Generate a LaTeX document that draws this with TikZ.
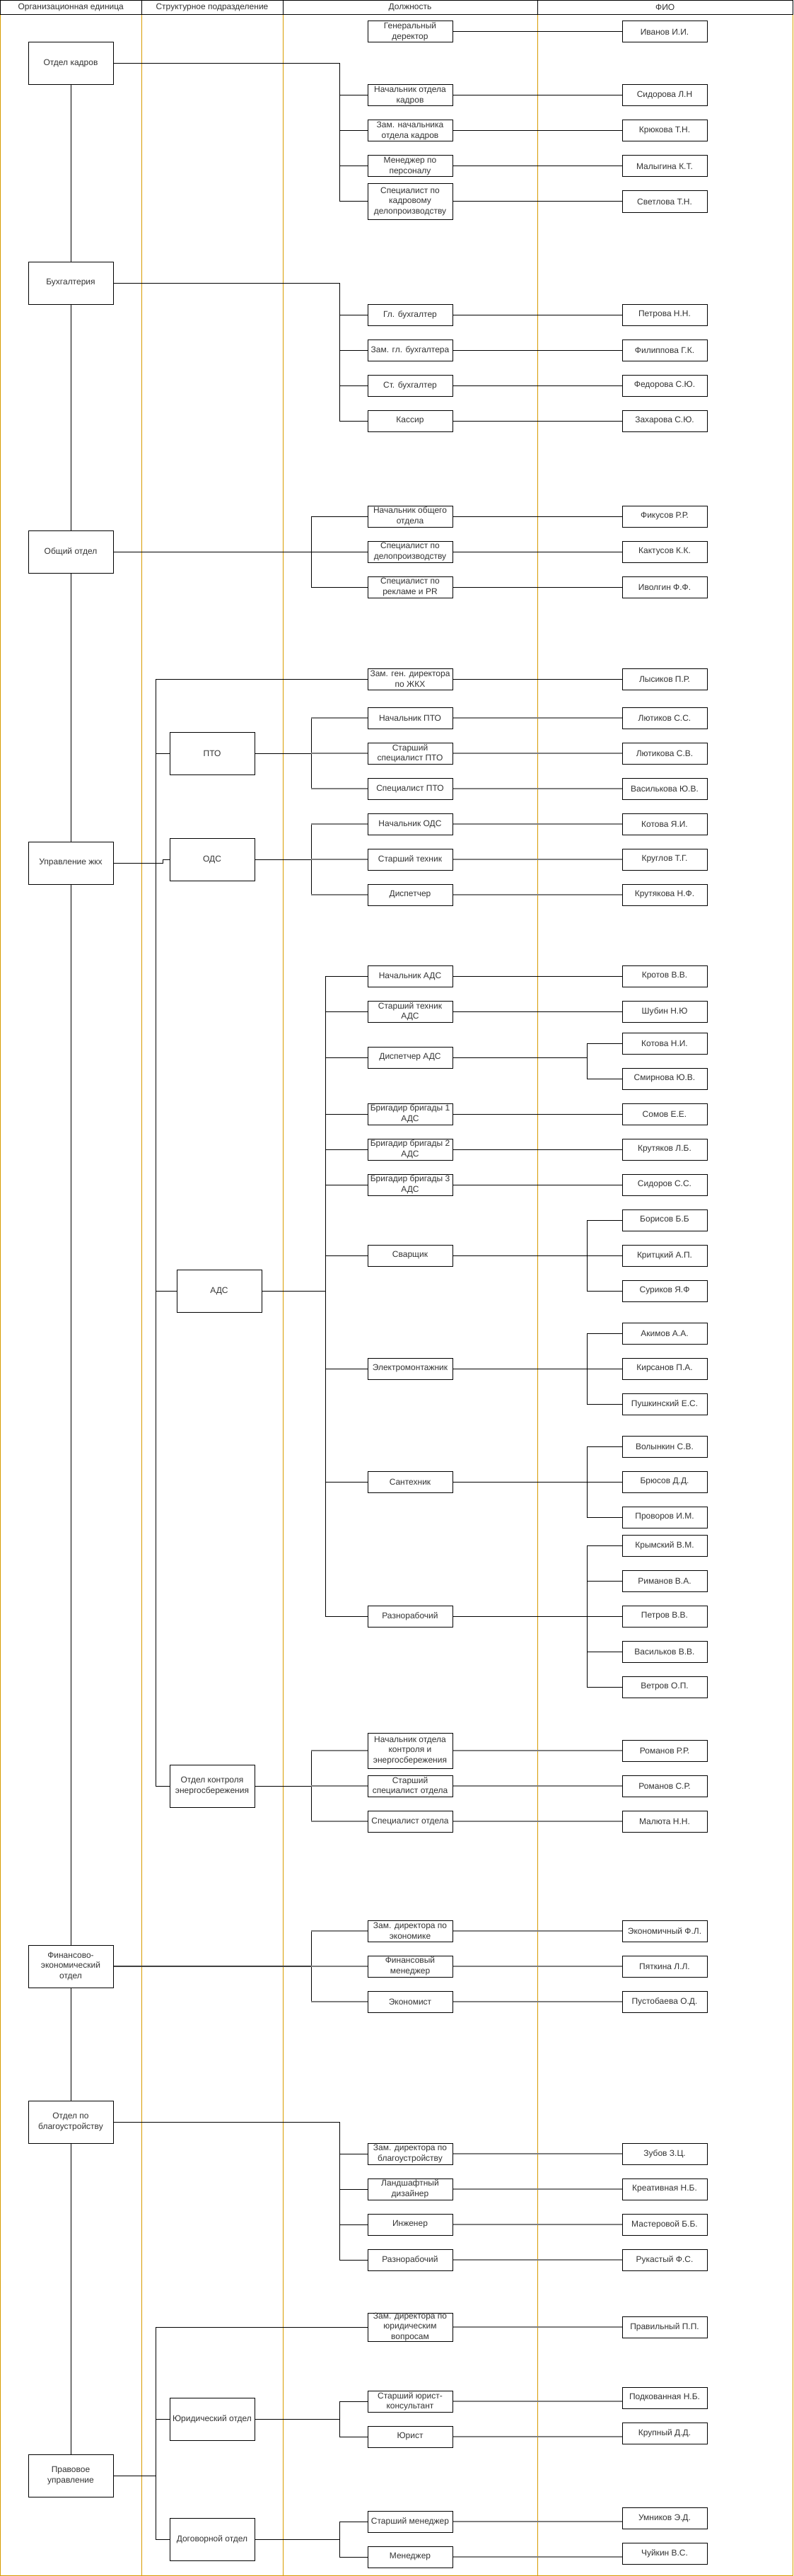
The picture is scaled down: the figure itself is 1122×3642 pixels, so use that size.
\documentclass[tikz,border=0pt]{standalone}
\usepackage{fontspec}
\setmainfont{Liberation Sans}
\usetikzlibrary{positioning}
\definecolor{or}{RGB}{215,155,0}
\definecolor{gristexte}{RGB}{51,51,51}
\definecolor{grislien}{RGB}{125,125,125}

\begin{document}
\begin{tikzpicture}[x=1pt,y=-1pt]
\tikzstyle{entete}=[rectangle,draw,line width=1pt,minimum height=20pt,inner sep=0pt,
        font=\fontsize{12}{14.5}\selectfont,text=gristexte]
\tikzstyle{unite}=[rectangle,draw,line width=1pt,minimum width=120pt,minimum height=60pt,
        inner sep=0pt,align=center,font=\fontsize{12}{14.5}\selectfont,text=gristexte]
\tikzstyle{poste}=[rectangle,draw,line width=1pt,minimum width=120pt,minimum height=30pt,
        inner sep=0pt,align=center,font=\fontsize{12}{14.5}\selectfont,text=gristexte]
\tikzstyle{poste3}=[poste,minimum height=50pt]
\tikzstyle{fio}=[poste]
%styledesliens
\tikzstyle{lien}=[line width=1pt,black]
\tikzstyle{glien}=[line width=1.6pt,grislien]
\tikzstyle{tronc}=[line width=0.6pt,black]
\useasboundingbox (0,0) rectangle (1122,3642);
%couloirs
\draw[or,line width=1pt] (0.5,20) -- (0.5,3641.5) -- (1121.5,3641.5) -- (1121.5,20);
\draw[or,line width=1pt] (200,20) -- (200,3641.5);
\draw[or,line width=1pt] (400,20) -- (400,3641.5);
\draw[or,line width=1pt] (760,20) -- (760,3641.5);
\node[entete,minimum width=199.5pt] (hUnite) at (100.25,10.5) {Организационная единица};
\node[entete,minimum width=200pt] (hSous) at (300,10.5) {Структурное подразделение};
\node[entete,minimum width=360pt] (hPoste) at (580,10.5) {Должность};
\node[entete,minimum width=361.5pt] (hFio) at (940.75,10.5) {ФИО};
\draw[line width=1.6pt] (0,20.5) -- (1122,20.5);
%placementdesunites
\node[unite] (uKadr) at (100,90) {Отдел кадров};
\node[unite] (uBuh) at (100,400) {Бухгалтерия};
\node[unite] (uObsh) at (100,780) {Общий отдел};
\node[unite] (uZhkh) at (100,1220) {Управление жкх};
\node[unite] (uFin) at (100,2780) {Финансово-\\экономический\\отдел};
\node[unite] (uBlag) at (100,3000) {Отдел по\\благоустройству};
\node[unite] (uPrav) at (100,3500) {Правовое\\управление};
%placementdessousdivisions
\node[unite] (sPto) at (300,1065) {ПТО};
\node[unite] (sOds) at (300,1215) {ОДС};
\node[unite] (sAds) at (310,1825) {АДС};
\node[unite] (sEnerg) at (300,2525) {Отдел контроля\\энергосбережения};
\node[unite] (sYur) at (300,3420) {Юридический отдел};
\node[unite] (sDog) at (300,3590) {Договорной отдел};
%placementdespostes
\node[poste] (pGen) at (580,45) {Генеральный\\деректор};
\node[poste] (pKadr1) at (580,135) {Начальник отдела\\кадров};
\node[poste] (pKadr2) at (580,185) {Зам. начальника\\отдела кадров};
\node[poste] (pKadr3) at (580,235) {Менеджер по\\персоналу};
\node[poste3] (pKadr4) at (580,285) {Специалист по\\кадровому\\делопроизводству};
\node[poste] (pBuh1) at (580,445) {Гл. бухгалтер};
\node[poste] (pBuh2) at (580,495) {Зам. гл. бухгалтера};
\node[poste] (pBuh3) at (580,545) {Ст. бухгалтер};
\node[poste] (pBuh4) at (580,595) {Кассир};
\node[poste] (pObsh1) at (580,730) {Начальник общего\\отдела};
\node[poste] (pObsh2) at (580,780) {Специалист по\\делопроизводству};
\node[poste] (pObsh3) at (580,830) {Специалист по\\рекламе и PR};
\node[poste] (pZam) at (580,960) {Зам. ген. директора\\по ЖКХ};
\node[poste] (pPto1) at (580,1015) {Начальник ПТО};
\node[poste] (pPto2) at (580,1065) {Старший\\специалист ПТО};
\node[poste] (pPto3) at (580,1115) {Специалист ПТО};
\node[poste] (pOds1) at (580,1165) {Начальник ОДС};
\node[poste] (pOds2) at (580,1215) {Старший техник};
\node[poste] (pOds3) at (580,1265) {Диспетчер};
\node[poste] (pAds1) at (580,1380) {Начальник АДС};
\node[poste] (pAds2) at (580,1430) {Старший техник\\АДС};
\node[poste] (pAds3) at (580,1495) {Диспетчер АДС};
\node[poste] (pAds4) at (580,1575) {Бригадир бригады 1\\АДС};
\node[poste] (pAds5) at (580,1625) {Бригадир бригады 2\\АДС};
\node[poste] (pAds6) at (580,1675) {Бригадир бригады 3\\АДС};
\node[poste] (pAds7) at (580,1775) {Сварщик};
\node[poste] (pAds8) at (580,1935) {Электромонтажник};
\node[poste] (pAds9) at (580,2095) {Сантехник};
\node[poste] (pAds10) at (580,2285) {Разнорабочий};
\node[poste3] (pEn1) at (580,2475) {Начальник отдела\\контроля и\\энергосбережения};
\node[poste] (pEn2) at (580,2525) {Старший\\специалист отдела};
\node[poste] (pEn3) at (580,2575) {Специалист отдела};
\node[poste] (pFin1) at (580,2730) {Зам. директора по\\экономике};
\node[poste] (pFin2) at (580,2780) {Финансовый\\менеджер};
\node[poste] (pFin3) at (580,2830) {Экономист};
\node[poste] (pBl1) at (580,3045) {Зам. директора по\\благоустройству};
\node[poste] (pBl2) at (580,3095) {Ландшафтный\\дизайнер};
\node[poste] (pBl3) at (580,3145) {Инженер};
\node[poste] (pBl4) at (580,3195) {Разнорабочий};
\node[poste,minimum height=40pt] (pPr1) at (580,3290) {Зам. директора по\\юридическим\\вопросам};
\node[poste] (pYur1) at (580,3395) {Старший юрист-\\консультант};
\node[poste] (pYur2) at (580,3445) {Юрист};
\node[poste] (pDog1) at (580,3565) {Старший менеджер};
\node[poste] (pDog2) at (580,3615) {Менеджер};
%placementdesfio
\node[fio] (nGen) at (940,45) {Иванов И.И.};
\node[fio] (nKadr1) at (940,135) {Сидорова Л.Н};
\node[fio] (nKadr2) at (940,185) {Крюкова Т.Н.};
\node[fio] (nKadr3) at (940,235) {Малыгина К.Т.};
\node[fio] (nKadr4) at (940,285) {Светлова Т.Н.};
\node[fio] (nBuh1) at (940,445) {Петрова Н.Н.};
\node[fio] (nBuh2) at (940,495) {Филиппова Г.К.};
\node[fio] (nBuh3) at (940,545) {Федорова С.Ю.};
\node[fio] (nBuh4) at (940,595) {Захарова С.Ю.};
\node[fio] (nObsh1) at (940,730) {Фикусов Р.Р.};
\node[fio] (nObsh2) at (940,780) {Кактусов К.К.};
\node[fio] (nObsh3) at (940,830) {Иволгин Ф.Ф.};
\node[fio] (nZam) at (940,960) {Лысиков П.Р.};
\node[fio] (nPto1) at (940,1015) {Лютиков С.С.};
\node[fio] (nPto2) at (940,1065) {Лютикова С.В.};
\node[fio] (nPto3) at (940,1115) {Василькова Ю.В.};
\node[fio] (nOds1) at (940,1165) {Котова Я.И.};
\node[fio] (nOds2) at (940,1215) {Круглов Т.Г.};
\node[fio] (nOds3) at (940,1265) {Крутякова Н.Ф.};
\node[fio] (nAds1) at (940,1380) {Кротов В.В.};
\node[fio] (nAds2) at (940,1430) {Шубин Н.Ю};
\node[fio] (nDisp1) at (940,1475) {Котова Н.И.};
\node[fio] (nDisp2) at (940,1525) {Смирнова Ю.В.};
\node[fio] (nAds4) at (940,1575) {Сомов Е.Е.};
\node[fio] (nAds5) at (940,1625) {Крутяков Л.Б.};
\node[fio] (nAds6) at (940,1675) {Сидоров С.С.};
\node[fio] (nSvar1) at (940,1725) {Борисов Б.Б};
\node[fio] (nSvar2) at (940,1775) {Критцкий А.П.};
\node[fio] (nSvar3) at (940,1825) {Суриков Я.Ф};
\node[fio] (nElek1) at (940,1885) {Акимов А.А.};
\node[fio] (nElek2) at (940,1935) {Кирсанов П.А.};
\node[fio] (nElek3) at (940,1985) {Пушкинский Е.С.};
\node[fio] (nSant1) at (940,2045) {Волынкин С.В.};
\node[fio] (nSant2) at (940,2095) {Брюсов Д.Д.};
\node[fio] (nSant3) at (940,2145) {Проворов И.М.};
\node[fio] (nRaz1) at (940,2185) {Крымский В.М.};
\node[fio] (nRaz2) at (940,2235) {Риманов В.А.};
\node[fio] (nRaz3) at (940,2285) {Петров В.В.};
\node[fio] (nRaz4) at (940,2335) {Васильков В.В.};
\node[fio] (nRaz5) at (940,2385) {Ветров О.П.};
\node[fio] (nEn1) at (940,2475) {Романов Р.Р.};
\node[fio] (nEn2) at (940,2525) {Романов С.Р.};
\node[fio] (nEn3) at (940,2575) {Малюта Н.Н.};
\node[fio] (nFin1) at (940,2730) {Экономичный Ф.Л.};
\node[fio] (nFin2) at (940,2780) {Пяткина Л.Л.};
\node[fio] (nFin3) at (940,2830) {Пустобаева О.Д.};
\node[fio] (nBl1) at (940,3045) {Зубов З.Ц.};
\node[fio] (nBl2) at (940,3095) {Креативная Н.Б.};
\node[fio] (nBl3) at (940,3145) {Мастеровой Б.Б.};
\node[fio] (nBl4) at (940,3195) {Рукастый Ф.С.};
\node[fio] (nPr1) at (940,3290) {Правильный П.П.};
\node[fio] (nYur1) at (940,3390) {Подкованная Н.Б.};
\node[fio] (nYur2) at (940,3440) {Крупный Д.Д.};
\node[fio] (nDog1) at (940,3560) {Умников Э.Д.};
\node[fio] (nDog2) at (940,3610) {Чуйкин В.С.};
%pointsdesbus
\coordinate (busKadr) at (480,90);
\coordinate (busBuh) at (480,400);
\coordinate (busObsh) at (440,780);
\coordinate (trZhkh) at (220,1220);
\coordinate (busPto) at (440,1065);
\coordinate (busOds) at (440,1215);
\coordinate (busAds) at (460,1825);
\coordinate (busDisp) at (830,1495);
\coordinate (busSvar) at (830,1775);
\coordinate (busElek) at (830,1935);
\coordinate (busSant) at (830,2095);
\coordinate (busRaz) at (830,2285);
\coordinate (busEn) at (440,2525);
\coordinate (busFin) at (440,2780);
\coordinate (busBlag) at (480,3000);
\coordinate (trPrav) at (220,3500);
\coordinate (busYur) at (480,3420);
\coordinate (busDog) at (480,3590);
%tronc
\draw[tronc] (uKadr.south) -- (uBuh.north);
\draw[tronc] (uBuh.south) -- (uObsh.north);
\draw[tronc] (uObsh.south) -- (uZhkh.north);
\draw[tronc] (uZhkh.south) -- (uFin.north);
\draw[tronc] (uFin.south) -- (uBlag.north);
\draw[tronc] (uBlag.south) -- (uPrav.north);
%direction
\draw[lien] (pGen.east) -- (nGen.west);
%kadry
\draw[lien] (uKadr.east) -- (busKadr) |- (pKadr4.west);
\draw[lien] (busKadr) |- (pKadr1.west);
\draw[lien] (busKadr) |- (pKadr2.west);
\draw[lien] (busKadr) |- (pKadr3.west);
\draw[lien] (pKadr1.east) -- (nKadr1.west);
\draw[lien] (pKadr2.east) -- (nKadr2.west);
\draw[lien] (pKadr3.east) -- (nKadr3.west);
\draw[lien] (pKadr4.east) -- (nKadr4.west);
%buhgalteria
\draw[lien] (uBuh.east) -- (busBuh) |- (pBuh4.west);
\draw[lien] (busBuh) |- (pBuh1.west);
\draw[lien] (busBuh) |- (pBuh2.west);
\draw[lien] (busBuh) |- (pBuh3.west);
\draw[lien] (pBuh1.east) -- (nBuh1.west);
\draw[lien] (pBuh2.east) -- (nBuh2.west);
\draw[lien] (pBuh3.east) -- (nBuh3.west);
\draw[lien] (pBuh4.east) -- (nBuh4.west);
%obshii
\draw[lien] (uObsh.east) -- (pObsh2.west);
\draw[lien] (busObsh) |- (pObsh1.west);
\draw[lien] (busObsh) |- (pObsh3.west);
\draw[lien] (pObsh1.east) -- (nObsh1.west);
\draw[lien] (pObsh2.east) -- (nObsh2.west);
\draw[lien] (pObsh3.east) -- (nObsh3.west);
%zhkh
\draw[lien] (uZhkh.east) -- (trZhkh) -- ++(10,0) |- (sOds.west);
\draw[lien] (pZam.west) -| (trZhkh |- sEnerg.west) -- (sEnerg.west);
\draw[lien] (trZhkh |- sPto.west) -- (sPto.west);
\draw[lien] (trZhkh |- sAds.west) -- (sAds.west);
\draw[lien] (pZam.east) -- (nZam.west);
%pto
\draw[lien] (sPto.east) -- (busPto);
\draw[lien] (busPto |- pPto1.west) -- (busPto |- pPto3.west);
\draw[glien] (busPto |- pPto1.west) -- (pPto1.west);
\draw[glien] (busPto) -- (pPto2.west);
\draw[glien] (busPto |- pPto3.west) -- (pPto3.west);
\draw[glien] (pPto1.east) -- (nPto1.west);
\draw[glien] (pPto2.east) -- (nPto2.west);
\draw[glien] (pPto3.east) -- (nPto3.west);
%ods
\draw[lien] (sOds.east) -- (busOds);
\draw[lien] (busOds |- pOds1.west) -- (busOds |- pOds3.west);
\draw[glien] (busOds |- pOds1.west) -- (pOds1.west);
\draw[glien] (busOds) -- (pOds2.west);
\draw[glien] (busOds |- pOds3.west) -- (pOds3.west);
\draw[glien] (pOds1.east) -- (nOds1.west);
\draw[glien] (pOds2.east) -- (nOds2.west);
\draw[glien] (pOds3.east) -- (nOds3.west);
%ads
\draw[lien] (sAds.east) -- (busAds);
\draw[lien] (busAds |- pAds1.west) -- (busAds |- pAds10.west);
\draw[lien] (busAds |- pAds1.west) -- (pAds1.west);
\draw[lien] (busAds |- pAds2.west) -- (pAds2.west);
\draw[lien] (busAds |- pAds3.west) -- (pAds3.west);
\draw[lien] (busAds |- pAds4.west) -- (pAds4.west);
\draw[lien] (busAds |- pAds5.west) -- (pAds5.west);
\draw[lien] (busAds |- pAds6.west) -- (pAds6.west);
\draw[lien] (busAds |- pAds7.west) -- (pAds7.west);
\draw[lien] (busAds |- pAds8.west) -- (pAds8.west);
\draw[lien] (busAds |- pAds9.west) -- (pAds9.west);
\draw[lien] (busAds |- pAds10.west) -- (pAds10.west);
\draw[lien] (pAds1.east) -- (nAds1.west);
\draw[lien] (pAds2.east) -- (nAds2.west);
\draw[lien] (pAds3.east) -- (busDisp);
\draw[lien] (busDisp) |- (nDisp1.west);
\draw[lien] (busDisp) |- (nDisp2.west);
\draw[lien] (pAds4.east) -- (nAds4.west);
\draw[lien] (pAds5.east) -- (nAds5.west);
\draw[lien] (pAds6.east) -- (nAds6.west);
\draw[lien] (pAds7.east) -- (nSvar2.west);
\draw[lien] (busSvar) |- (nSvar1.west);
\draw[lien] (busSvar) |- (nSvar3.west);
\draw[lien] (pAds8.east) -- (nElek2.west);
\draw[lien] (busElek) |- (nElek1.west);
\draw[lien] (busElek) |- (nElek3.west);
\draw[lien] (pAds9.east) -- (nSant2.west);
\draw[lien] (busSant) |- (nSant1.west);
\draw[lien] (busSant) |- (nSant3.west);
\draw[lien] (pAds10.east) -- (nRaz3.west);
\draw[lien] (busRaz) |- (nRaz1.west);
\draw[lien] (busRaz) |- (nRaz2.west);
\draw[lien] (busRaz) |- (nRaz4.west);
\draw[lien] (busRaz) |- (nRaz5.west);
%energo
\draw[lien] (sEnerg.east) -- (busEn);
\draw[lien] (busEn |- pEn1.west) -- (busEn |- pEn3.west);
\draw[glien] (busEn |- pEn1.west) -- (pEn1.west);
\draw[glien] (busEn) -- (pEn2.west);
\draw[glien] (busEn |- pEn3.west) -- (pEn3.west);
\draw[glien] (pEn1.east) -- (nEn1.west);
\draw[glien] (pEn2.east) -- (nEn2.west);
\draw[glien] (pEn3.east) -- (nEn3.west);
%finansy
\draw[glien,darkgray] (uFin.east) -- (busFin);
\draw[lien] (busFin |- pFin1.west) -- (busFin |- pFin3.west);
\draw[glien] (busFin |- pFin1.west) -- (pFin1.west);
\draw[glien] (busFin) -- (pFin2.west);
\draw[glien] (busFin |- pFin3.west) -- (pFin3.west);
\draw[glien] (pFin1.east) -- (nFin1.west);
\draw[glien] (pFin2.east) -- (nFin2.west);
\draw[glien] (pFin3.east) -- (nFin3.west);
%blagoustroistvo
\draw[lien] (uBlag.east) -- (busBlag) |- (pBl4.west);
\draw[lien] (busBlag) |- (pBl1.west);
\draw[lien] (busBlag) |- (pBl2.west);
\draw[lien] (busBlag) |- (pBl3.west);
\draw[glien] (pBl1.east) -- (nBl1.west);
\draw[glien] (pBl2.east) -- (nBl2.west);
\draw[glien] (pBl3.east) -- (nBl3.west);
\draw[glien] (pBl4.east) -- (nBl4.west);
%pravovoe
\draw[lien] (uPrav.east) -- (trPrav);
\draw[lien] (pPr1.west) -| (trPrav |- sDog.west) -- (sDog.west);
\draw[lien] (trPrav |- sYur.west) -- (sYur.west);
\draw[glien] (pPr1.east) -- (nPr1.west);
\draw[lien] (sYur.east) -- (busYur);
\draw[lien] (busYur) |- (pYur1.west);
\draw[lien] (busYur) |- (pYur2.west);
\draw[glien] (pYur1.east) -- (pYur1.east -| nYur1.west);
\draw[glien] (pYur2.east) -- (pYur2.east -| nYur2.west);
\draw[lien] (sDog.east) -- (busDog);
\draw[lien] (busDog) |- (pDog1.west);
\draw[lien] (busDog) |- (pDog2.west);
\draw[glien] (pDog1.east) -- (pDog1.east -| nDog1.west);
\draw[glien] (pDog2.east) -- (pDog2.east -| nDog2.west);
\end{tikzpicture}
\end{document}
